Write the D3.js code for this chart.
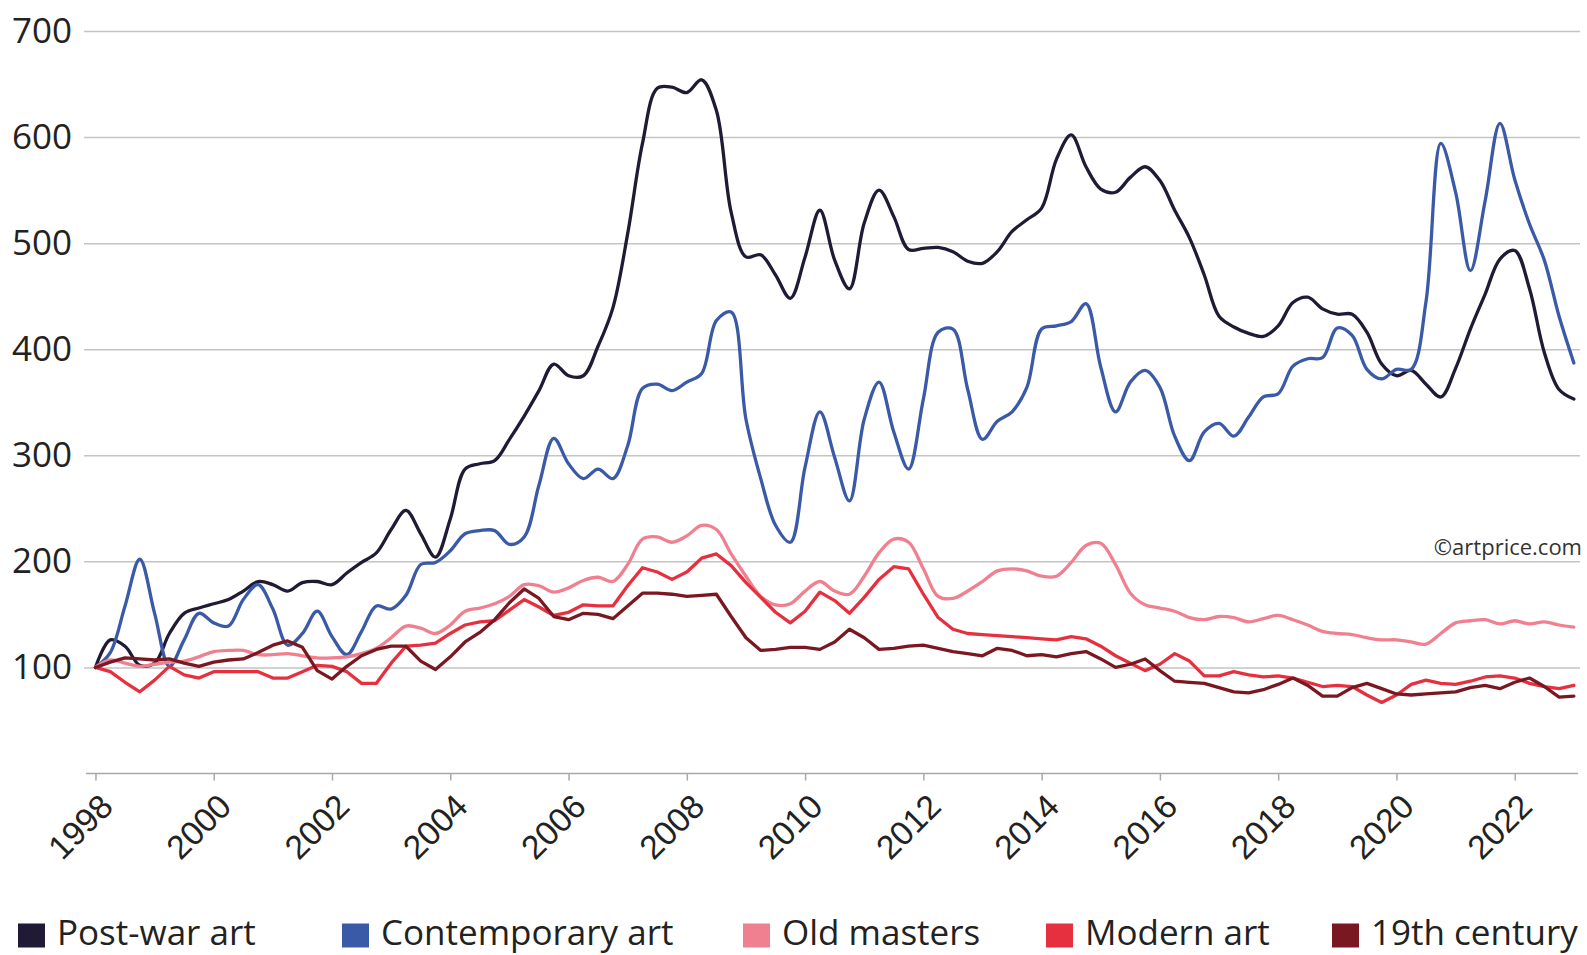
<!DOCTYPE html>
<html><head><meta charset="utf-8">
<script src="https://cdn.jsdelivr.net/npm/d3@7"></script>
<style>
body{margin:0;background:#fff;}
svg{display:block;font-family:"Open Sans",sans-serif;}
</style>
</head><body>
<svg id="chart" width="1587" height="955"></svg>
<script>
// quarterly observations, 1998 Q1 (=100) to 2023 Q1
const periods = [
1998.00,1998.25,1998.50,1998.75,1999.00,1999.25,1999.50,1999.75,2000.00,2000.25,2000.50,2000.75,
2001.00,2001.25,2001.50,2001.75,2002.00,2002.25,2002.50,2002.75,2003.00,2003.25,2003.50,2003.75,
2004.00,2004.25,2004.50,2004.75,2005.00,2005.25,2005.50,2005.75,2006.00,2006.25,2006.50,2006.75,
2007.00,2007.25,2007.50,2007.75,2008.00,2008.25,2008.50,2008.75,2009.00,2009.25,2009.50,2009.75,
2010.00,2010.25,2010.50,2010.75,2011.00,2011.25,2011.50,2011.75,2012.00,2012.25,2012.50,2012.75,
2013.00,2013.25,2013.50,2013.75,2014.00,2014.25,2014.50,2014.75,2015.00,2015.25,2015.50,2015.75,
2016.00,2016.25,2016.50,2016.75,2017.00,2017.25,2017.50,2017.75,2018.00,2018.25,2018.50,2018.75,
2019.00,2019.25,2019.50,2019.75,2020.00,2020.25,2020.50,2020.75,2021.00,2021.25,2021.50,2021.75,
2022.00,2022.25,2022.50,2022.75,2023.00];

const postWar = [
100,126,120,102,104,132,151,156,160,164,172,181,178,172,180,181,178,189,199,208,230,248,226,204,
240,287,292,295,315,337,361,386,375,375,403,439,509,594,646,647,642,654,625,529,487,489,470,448,
487,531,484,457,519,550,525,494,495,496,492,483,481,492,511,522,533,579,602,572,551,548,562,572,
559,531,505,470,431,421,415,412,422,444,449,438,433,433,416,386,375,380,367,355,382,419,452,485,
493,457,397,362,353];

const contemporary = [
100,114,158,202,151,101,126,151,142,139,164,178,155,121,132,153,129,112,134,158,155,168,197,199,
210,226,229,229,216,223,272,316,292,278,287,278,309,363,367,361,369,377,427,435,334,278,234,218,
289,341,298,257,334,369,322,287,353,416,419,362,315,332,341,364,419,422,426,443,383,341,369,380,
364,318,295,322,330,318,336,355,358,384,391,392,420,413,381,372,381,381,445,594,548,474,540,613,
560,518,484,431,387];

const oldMasters = [
100,107,104,101,103,105,106,110,115,116,116,112,112,113,111,109,109,110,113,118,128,139,137,132,
140,153,156,160,167,178,177,171,175,182,185,181,197,221,223,218,224,234,230,207,186,167,159,160,
172,181,172,169,186,208,221,218,193,167,165,172,181,191,193,191,186,186,199,215,217,197,170,159,
156,153,147,145,148,147,143,146,149,145,140,134,132,131,128,126,126,124,122,132,142,144,145,141,
144,141,143,140,138];

const modernArt = [
100,96,86,77,88,101,93,90,96,96,96,96,90,90,96,102,101,96,85,85,104,120,121,123,
132,140,143,144,154,164,157,149,152,159,158,158,177,194,190,183,190,203,207,196,180,166,152,142,
153,171,163,151,166,183,195,193,169,147,136,132,131,130,129,128,127,126,129,127,120,111,104,97,
103,113,106,92,92,96,93,91,92,90,86,82,83,82,74,67,74,84,88,85,84,87,91,92,
90,85,82,80,83];

const nineteenth = [
100,105,109,108,107,108,104,101,105,107,108,114,121,125,119,97,89,101,111,117,120,120,106,98,
110,124,133,145,161,174,165,148,145,151,150,146,158,170,170,169,167,168,169,148,128,116,117,119,
119,117,124,136,128,117,118,120,121,118,115,113,111,118,116,111,112,110,113,115,108,100,103,108,
97,87,86,85,81,77,76,79,84,90,83,73,73,81,85,80,75,74,75,76,77,81,83,80,
86,90,82,72,73];

const seriesNames = ["Post-war art","Contemporary art","Old masters","Modern art","19th century"];
const seriesColors = ["#211a35","#3a5aa8","#f08090","#e7303f","#7a1822"];
const seriesSmooth = [true,true,true,false,false];
const seriesValues = [postWar, contemporary, oldMasters, modernArt, nineteenth];

const yTicks = [100,200,300,400,500,600,700];
const xTicks = [1998,2000,2002,2004,2006,2008,2010,2012,2014,2016,2018,2020,2022];
const creditText = "©artprice.com";

// ---------- drawing ----------
const svg = d3.select("#chart");
const x = d3.scaleLinear().domain([1997.84, 2023.07]).range([86, 1578]);
const y = d3.scaleLinear().domain([0, 700]).range([773.5, 31]);

// gridlines + y labels
const yAxis = d3.axisLeft(y).tickValues(yTicks).tickSize(-(1580 - 84)).tickPadding(12).tickFormat(d3.format("d"));
const gy = svg.append("g").attr("transform", "translate(84,0)").call(yAxis);
gy.select(".domain").remove();
gy.selectAll(".tick line").attr("stroke", "#c4c4c4").attr("stroke-width", 1.5);
gy.selectAll(".tick text").attr("fill", "#222").attr("font-size", 35).attr("font-family", "'Open Sans',sans-serif");

// x axis
const xAxis = d3.axisBottom(x).tickValues(xTicks).tickSize(7).tickFormat("");
const gx = svg.append("g").attr("transform", "translate(0,773.5)").call(xAxis);
gx.select(".domain").attr("stroke", "#a8a8a8").attr("stroke-width", 1.5).attr("d", "M86,0H1578");
gx.selectAll(".tick line").attr("stroke", "#a8a8a8").attr("stroke-width", 1.5);
gx.selectAll(".tick").append("text")
  .attr("fill", "#222").attr("font-size", 33.5).attr("text-anchor", "end")
  .attr("transform", "translate(19,35) rotate(-45)")
  .text(d => d);

// credit
svg.append("text").attr("x", 1582).attr("y", 555).attr("text-anchor", "end")
  .attr("font-size", 22).attr("fill", "#333").text(creditText);

// lines
const plot = svg.append("g");
seriesValues.forEach((vals, si) => {
  const line = d3.line()
    .x((d, i) => x(periods[i]))
    .y(d => y(d))
    .curve(seriesSmooth[si] ? d3.curveCatmullRom.alpha(0.5) : d3.curveLinear);
  plot.append("path").datum(vals)
    .attr("fill", "none").attr("stroke", seriesColors[si])
    .attr("stroke-width", 3.3).attr("stroke-linejoin", "round").attr("stroke-linecap", "round")
    .attr("d", line);
});

// legend
const legendX = [18, 342, 743, 1046, 1332];
const leg = svg.append("g").attr("transform", "translate(0,945)");
seriesNames.forEach((n, i) => {
  const g = leg.append("g").attr("transform", `translate(${legendX[i]},0)`);
  g.append("rect").attr("x", 0).attr("y", -21.5).attr("width", 27).attr("height", 24).attr("fill", seriesColors[i]);
  g.append("text").attr("x", 39).attr("y", 0)
    .attr("font-size", 35).attr("fill", "#222").text(n);
});
</script>
</body></html>
